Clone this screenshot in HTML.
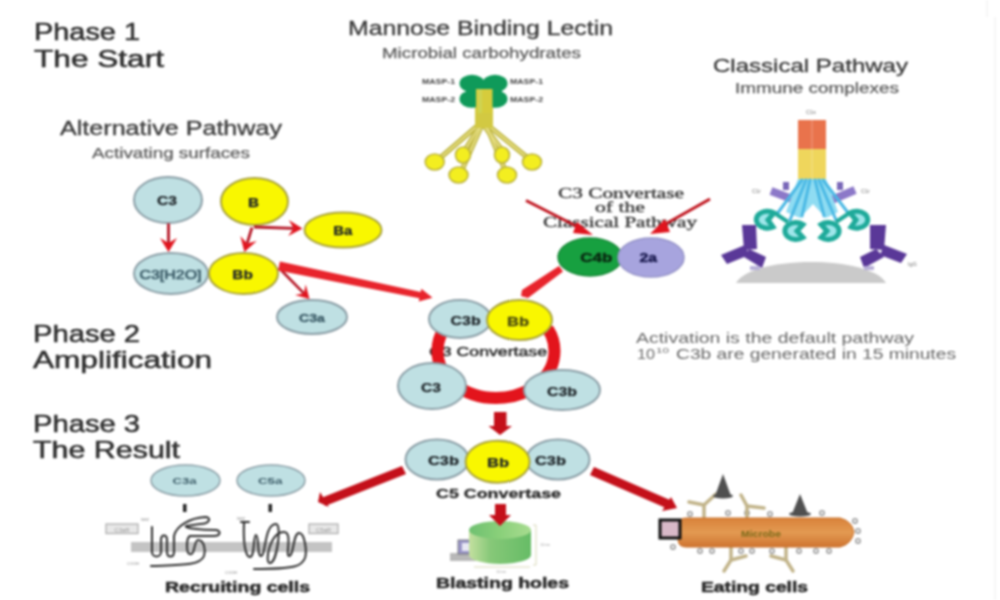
<!DOCTYPE html>
<html><head><meta charset="utf-8">
<style>
html,body{margin:0;padding:0;background:#fff;width:1000px;height:600px;overflow:hidden}
svg{display:block;filter:blur(1px)}
text{font-family:"Liberation Sans",sans-serif}
.sf{font-family:"Liberation Serif",serif}
</style></head><body>
<svg width="1000" height="600" viewBox="0 0 1000 600">
<defs>
<linearGradient id="mic" x1="0" y1="0" x2="0" y2="1">
<stop offset="0" stop-color="#d9823a"/><stop offset="0.5" stop-color="#e39a52"/><stop offset="1" stop-color="#cf7430"/>
</linearGradient>
<linearGradient id="cyl" x1="0" y1="0" x2="1" y2="0"><stop offset="0" stop-color="#c4e0a0"/><stop offset="0.35" stop-color="#86c878"/><stop offset="1" stop-color="#66bc66"/></linearGradient>
<linearGradient id="cyltop" x1="0" y1="0" x2="1" y2="0"><stop offset="0" stop-color="#6ec070"/><stop offset="0.5" stop-color="#8ad07a"/><stop offset="1" stop-color="#a8dc90"/></linearGradient>
<clipPath id="ringclip"><rect x="400" y="326" width="200" height="100"/></clipPath>
</defs>
<rect width="1000" height="600" fill="#fff"/>
<rect x="994.5" y="17" width="1.2" height="583" fill="#f0f0f0"/><rect x="986.5" y="0" width="1.2" height="17" fill="#f0f0f0"/>

<!-- ===== Titles ===== -->
<g fill="#2e2e2e" stroke="#2e2e2e" stroke-width="0.55">
<text x="34" y="40.4" font-size="24.5" textLength="106" lengthAdjust="spacingAndGlyphs">Phase 1</text>
<text x="34" y="66.8" font-size="24.5" textLength="130" lengthAdjust="spacingAndGlyphs">The Start</text>
<text x="33" y="342" font-size="24.5" textLength="107" lengthAdjust="spacingAndGlyphs">Phase 2</text>
<text x="33" y="368" font-size="24.5" textLength="179" lengthAdjust="spacingAndGlyphs">Amplification</text>
<text x="33" y="432" font-size="24.5" textLength="107" lengthAdjust="spacingAndGlyphs">Phase 3</text>
<text x="33" y="458" font-size="24.5" textLength="147" lengthAdjust="spacingAndGlyphs">The Result</text>
</g>
<g fill="#3a3a3a" stroke="#3a3a3a" stroke-width="0.3">
<text x="348" y="34.6" font-size="19.6" textLength="265" lengthAdjust="spacingAndGlyphs">Mannose Binding Lectin</text>
<text x="713" y="72" font-size="19" textLength="195" lengthAdjust="spacingAndGlyphs">Classical Pathway</text>
<text x="60" y="135" font-size="19.6" textLength="222" lengthAdjust="spacingAndGlyphs">Alternative Pathway</text>
</g>
<g fill="#5c5c5c" stroke="#5c5c5c" stroke-width="0.25">
<text x="382" y="58" font-size="15.5" textLength="199" lengthAdjust="spacingAndGlyphs">Microbial carbohydrates</text>
<text x="735" y="93" font-size="14" textLength="164" lengthAdjust="spacingAndGlyphs">Immune complexes</text>
<text x="92" y="158" font-size="14.5" textLength="158" lengthAdjust="spacingAndGlyphs">Activating surfaces</text>
</g>
<g fill="#686868">
<text x="636" y="343" font-size="15" textLength="278" lengthAdjust="spacingAndGlyphs">Activation is the default pathway</text>
<text x="637" y="358.5" font-size="15" textLength="18" lengthAdjust="spacingAndGlyphs">10</text>
<text x="656" y="353" font-size="8" textLength="13" lengthAdjust="spacingAndGlyphs">10</text>
<text x="676" y="358.5" font-size="15" textLength="280" lengthAdjust="spacingAndGlyphs">C3b are generated in 15 minutes</text>
</g>

<!-- ===== Alternative pathway ===== -->
<g stroke-width="2">
<ellipse cx="168" cy="200" rx="34" ry="23" fill="#bfe0e3" stroke="#8b9ea6"/>
<ellipse cx="254.5" cy="201.5" rx="33.5" ry="23.5" fill="#f9f700" stroke="#aaa43c"/>
<ellipse cx="343" cy="230" rx="38.5" ry="17.5" fill="#f9f700" stroke="#aaa43c"/>
<ellipse cx="171" cy="273.5" rx="37" ry="20.5" fill="#bfe0e3" stroke="#8b9ea6"/>
<ellipse cx="243.5" cy="273.5" rx="34.5" ry="20.5" fill="#f9f700" stroke="#aaa43c"/>
<ellipse cx="312" cy="317" rx="35" ry="17" fill="#bfe0e3" stroke="#8b9ea6"/>
</g>
<g font-weight="bold" fill="#1c2226" stroke="#1c2226" stroke-width="0.25" text-anchor="middle">
<text x="167" y="204.5" font-size="13" textLength="20" lengthAdjust="spacingAndGlyphs">C3</text>
<text x="253.5" y="206.5" font-size="13" textLength="11" lengthAdjust="spacingAndGlyphs">B</text>
<text x="342.7" y="234.5" font-size="12" textLength="19" lengthAdjust="spacingAndGlyphs">Ba</text>
<text x="170.5" y="278.5" font-size="13" font-weight="normal" stroke-width="0.6" fill="#3a5a66" stroke="#3a5a66" textLength="62" lengthAdjust="spacingAndGlyphs">C3[H2O]</text>
<text x="242.6" y="278.5" font-size="13" textLength="20.5" lengthAdjust="spacingAndGlyphs">Bb</text>
<text x="312" y="321.5" font-size="10.5" fill="#3a5a66" stroke="#3a5a66" stroke-width="0.3" textLength="26" lengthAdjust="spacingAndGlyphs">C3a</text>
</g>
<g>
<line x1="168.5" y1="223.5" x2="168.5" y2="243.0" stroke="#b41424" stroke-width="2.8"/>
<path d="M168.5,252.0 L160.0,238.0 L168.5,243.0 L177.0,238.0 z" fill="#e0141e"/>
<line x1="252.0" y1="227.5" x2="247.1" y2="243.4" stroke="#b41424" stroke-width="2.8"/>
<path d="M244.4,252.0 L240.4,236.1 L247.1,243.4 L256.7,241.1 z" fill="#e0141e"/>
<line x1="254.0" y1="227.0" x2="293.5" y2="228.3" stroke="#b41424" stroke-width="2.8"/>
<path d="M302.5,228.6 L288.2,236.1 L293.5,228.3 L288.8,220.1 z" fill="#e0141e"/>
<line x1="279.0" y1="268.0" x2="303.9" y2="293.3" stroke="#b41424" stroke-width="2.5"/>
<path d="M309.5,299.0 L295.0,295.0 L303.9,293.3 L305.7,284.5 z" fill="#e0141e"/>
</g>
<g fill="#e8242c">
<path d="M279.9,261.6 L420.65,292.1 L421.3,288.8 L432.5,297.8 L418.7,301.6 L419.35,298.3 L278.1,270.4 z"/>
</g>

<!-- ===== MBL figure ===== -->
<g>
<g stroke="#bdb43c" stroke-width="5" fill="none" stroke-linecap="round">
<line x1="476" y1="127" x2="440" y2="158"/>
<line x1="479" y1="127" x2="465" y2="150"/>
<line x1="481" y1="127" x2="462" y2="170"/>
<line x1="485" y1="127" x2="502" y2="150"/>
<line x1="487" y1="127" x2="505" y2="170"/>
<line x1="490" y1="127" x2="528" y2="158"/>
</g>
<g stroke="#e4dc80" stroke-width="2.2" fill="none" stroke-linecap="round">
<line x1="476" y1="127" x2="440" y2="158"/>
<line x1="479" y1="127" x2="465" y2="150"/>
<line x1="481" y1="127" x2="462" y2="170"/>
<line x1="485" y1="127" x2="502" y2="150"/>
<line x1="487" y1="127" x2="505" y2="170"/>
<line x1="490" y1="127" x2="528" y2="158"/>
</g>
<g stroke="#bdb43c" stroke-width="1.6" fill="#f3ee20">
<ellipse cx="434.7" cy="162" rx="9.5" ry="8"/>
<ellipse cx="463" cy="155" rx="7.5" ry="8"/>
<ellipse cx="458.5" cy="175" rx="9.5" ry="8"/>
<ellipse cx="502" cy="155" rx="7.5" ry="8"/>
<ellipse cx="507" cy="175" rx="9.5" ry="8"/>
<ellipse cx="532" cy="162" rx="9.5" ry="8"/>
</g>
<rect x="475" y="100" width="18" height="28" fill="#d2c942"/>
<g fill="#0f9a5a">
<rect x="466" y="80" width="36" height="22"/>
<ellipse cx="472" cy="83.5" rx="12.5" ry="8.8"/>
<ellipse cx="495" cy="83.5" rx="12.5" ry="8.8"/>
<ellipse cx="472" cy="99" rx="12.5" ry="8.8"/>
<ellipse cx="495" cy="99" rx="12.5" ry="8.8"/>
</g>
<rect x="476" y="89" width="16.5" height="24" fill="#d6cc3c"/>
<rect x="478" y="89" width="4" height="24" fill="#c8d860" opacity="0.6"/>
<g font-size="6.5" fill="#444" font-weight="bold">
<text x="422" y="84" textLength="33" lengthAdjust="spacingAndGlyphs">MASP-1</text>
<text x="422" y="102" textLength="33" lengthAdjust="spacingAndGlyphs">MASP-2</text>
<text x="510" y="84" textLength="33" lengthAdjust="spacingAndGlyphs">MASP-1</text>
<text x="510" y="102" textLength="33" lengthAdjust="spacingAndGlyphs">MASP-2</text>
</g>
</g>

<!-- ===== Classical pathway C1 complex ===== -->
<g>
<path d="M736,283 C752,255 870,255 886,283 z" fill="#cacaca"/>
<rect x="798" y="120" width="28" height="30" fill="#e9734c"/>
<rect x="798" y="149" width="28" height="30" fill="#efd65c"/>
<line x1="812" y1="120" x2="812" y2="179" stroke="#fff" stroke-width="1" opacity="0.3"/>
<g stroke="#8c78c8" stroke-width="8" fill="none">
<path d="M771,191 L800,202"/><path d="M855,190 L827,202"/>
</g>
<g fill="#7a68b8"><rect x="783" y="182" width="6" height="8"/><rect x="837" y="182" width="6" height="8"/></g>
<path d="M798,179 L826,179 L838,212 L826,218 L813,204 L800,218 L786,212 z" fill="#8fdcf2"/>
<g stroke="#4ab8e4" stroke-width="3" fill="none" stroke-linecap="round">
<path d="M802,180 L777,214"/>
<path d="M806,180 L790,220"/>
<path d="M810,180 L802,216"/>
<path d="M815,180 L824,216"/>
<path d="M819,180 L836,220"/>
<path d="M823,180 L849,214"/>
</g>
<g stroke="#1faa9a" stroke-width="5" fill="#9fe6ea">
<path d="M774,213 A11,8.5 0 1 0 773,227 L768,220 z"/>
<path d="M803,224.5 A11,8.5 0 1 0 803,237.5 L797,231 z"/>
<path d="M821,224.5 A11,8.5 0 1 1 821,237.5 L827,231 z"/>
<path d="M850,213 A11,8.5 0 1 1 851,227 L856,220 z"/>
</g>
<g stroke="#1faa9a" stroke-width="4" fill="none">
<path d="M776,214 L788,222"/><path d="M848,214 L836,222"/>
</g>
<g fill="#5a3898">
<path d="M742,225 L756,225 L757,249 L744,250 z"/>
<path d="M745,245 L721,255 L727,264 L749,255 z"/>
<path d="M749,249 L766,257 L762,268 L744,257 z"/>
<path d="M870,225 L886,225 L884,250 L870,249 z"/>
<path d="M884,245 L907,254 L901,263 L880,255 z"/>
<path d="M876,249 L860,257 L864,268 L884,257 z"/>
</g>
<g fill="#b8b0d8"><rect x="750" y="266" width="10" height="4"/><rect x="864" y="266" width="10" height="4"/></g>
<g font-size="5.5" fill="#777">
<text x="806" y="114">C1s</text>
<text x="752" y="193">C1r</text>
<text x="861" y="193">C1r</text>
<text x="908" y="266">IgG</text>
</g>
</g>

<!-- ===== C4b 2a ===== -->

<ellipse cx="590" cy="257" rx="32" ry="19" fill="#17a040" stroke="#1b8a3a" stroke-width="1.5"/>
<ellipse cx="651" cy="257.5" rx="33" ry="19.5" fill="#a7a4de" stroke="#9694c8" stroke-width="1.5"/>
<g font-weight="bold" text-anchor="middle">
<text x="596.3" y="262" font-size="13" fill="#0a2a12" stroke="#0a2a12" stroke-width="0.5" textLength="32" lengthAdjust="spacingAndGlyphs">C4b</text>
<text x="648.3" y="262" font-size="13" fill="#1b1b50" stroke="#1b1b50" stroke-width="0.5" textLength="17.5" lengthAdjust="spacingAndGlyphs">2a</text>
</g>
<g fill="#383838" stroke="#383838" stroke-width="0.35" class="sf">
<text class="sf" x="558" y="198" font-size="14.5" textLength="126" lengthAdjust="spacingAndGlyphs">C3 Convertase</text>
<text class="sf" x="595" y="212" font-size="14.5" textLength="50" lengthAdjust="spacingAndGlyphs">of the</text>
<text class="sf" x="543" y="227" font-size="14.5" textLength="154" lengthAdjust="spacingAndGlyphs">Classical Pathway</text>
</g>
<g>
<line x1="526" y1="200.5" x2="582" y2="229" stroke="#c0141e" stroke-width="3"/>
<path d="M577,222 L593,235 L573,233 z" fill="#e0141e"/>
<line x1="710" y1="199" x2="662" y2="226" stroke="#c0141e" stroke-width="3"/>
<path d="M665,219 L650,234 L670,232 z" fill="#e0141e"/>
</g>
<g fill="#e8242c">
<path d="M559,266 L563,271.5 L528,298 L521,296 L522,290 z"/>
</g>

<!-- ===== C3 convertase ring ===== -->
<text x="429" y="356" font-size="13" fill="#2a2a2a" stroke="#2a2a2a" stroke-width="0.45" textLength="118" lengthAdjust="spacingAndGlyphs">C3 Convertase</text>
<ellipse cx="496" cy="351" rx="58.5" ry="47" fill="none" stroke="#e3141c" stroke-width="12" clip-path="url(#ringclip)"/>
<g stroke-width="2">
<ellipse cx="460" cy="319" rx="31" ry="19" fill="#bfe0e3" stroke="#8b9ea6"/>
<ellipse cx="519.5" cy="320" rx="32.5" ry="20" fill="#f9f700" stroke="#aaa43c"/>
<ellipse cx="432" cy="386" rx="34" ry="23" fill="#bfe0e3" stroke="#8b9ea6"/>
<ellipse cx="562" cy="390" rx="38" ry="20" fill="#bfe0e3" stroke="#8b9ea6"/>
</g>
<g font-weight="bold" fill="#1c2226" stroke="#1c2226" stroke-width="0.25" text-anchor="middle">
<text x="465.6" y="325" font-size="13" textLength="30" lengthAdjust="spacingAndGlyphs">C3b</text>
<text x="518" y="326" font-size="13" fill="#4a4a10" stroke="#4a4a10" stroke-width="0.3" textLength="22" lengthAdjust="spacingAndGlyphs">Bb</text>
<text x="431" y="392" font-size="13" textLength="20" lengthAdjust="spacingAndGlyphs">C3</text>
<text x="562" y="395.5" font-size="13" textLength="30" lengthAdjust="spacingAndGlyphs">C3b</text>
</g>
<g fill="#c4101a">
<rect x="494" y="412" width="12.5" height="15"/>
<path d="M488.5,426 L512,426 L500,435 z"/>
</g>

<!-- ===== C5 convertase ===== -->
<g stroke-width="2">
<ellipse cx="437" cy="459.5" rx="31.5" ry="20" fill="#bfe0e3" stroke="#8b9ea6"/>
<ellipse cx="558" cy="459.5" rx="31.5" ry="20" fill="#bfe0e3" stroke="#8b9ea6"/>
<ellipse cx="497.6" cy="461.7" rx="32" ry="21" fill="#f9f700" stroke="#aaa43c"/>
</g>
<g font-weight="bold" fill="#1c2226" stroke="#1c2226" stroke-width="0.25" text-anchor="middle">
<text x="443.5" y="465" font-size="13" textLength="31" lengthAdjust="spacingAndGlyphs">C3b</text>
<text x="498" y="467" font-size="13" textLength="22" lengthAdjust="spacingAndGlyphs">Bb</text>
<text x="550.5" y="465" font-size="13" textLength="31" lengthAdjust="spacingAndGlyphs">C3b</text>
</g>
<text x="436" y="497.5" font-size="13" font-weight="bold" fill="#2a2a2a" stroke="#2a2a2a" stroke-width="0.3" textLength="125" lengthAdjust="spacingAndGlyphs">C5 Convertase</text>
<g fill="#c4101a">
<path d="M402,466 L406,474 L325,506 L321,498 z"/>
<path d="M318,502 L320,492 L329,507 z"/>
<path d="M590,475 L594,467 L670,500 L666,508 z"/>
<path d="M677,508 L671,497 L662,511 z"/>
</g>

<!-- ===== Recruiting cells ===== -->
<g>
<ellipse cx="185.5" cy="480.5" rx="34.5" ry="15.5" fill="#bfe0e3" stroke="#8b9ea6" stroke-width="1.5"/>
<ellipse cx="271" cy="480.5" rx="34" ry="15.5" fill="#bfe0e3" stroke="#8b9ea6" stroke-width="1.5"/>
<text x="184.6" y="484" font-size="9.5" font-weight="bold" fill="#3a5a66" text-anchor="middle" textLength="24" lengthAdjust="spacingAndGlyphs">C3a</text>
<text x="270.2" y="484" font-size="9.5" font-weight="bold" fill="#3a5a66" text-anchor="middle" textLength="24.5" lengthAdjust="spacingAndGlyphs">C5a</text>
<rect x="183" y="504" width="3.5" height="8" fill="#222"/>
<rect x="268.5" y="504" width="3.5" height="8" fill="#222"/>
<rect x="131" y="542" width="201" height="10" fill="#c4c4c4"/>
<rect x="106" y="524" width="32" height="9.5" fill="#e8e8e8" stroke="#aaa" stroke-width="1.2"/>
<rect x="309" y="524" width="29" height="9.5" fill="#e8e8e8" stroke="#aaa" stroke-width="1.2"/>
<text x="122" y="531.5" font-size="6" fill="#999" text-anchor="middle">C3aR</text>
<text x="323.5" y="531.5" font-size="6" fill="#999" text-anchor="middle">C5aR</text>
<g stroke="#2e2e2e" stroke-width="2" fill="none" stroke-linejoin="round" stroke-linecap="round">
<path d="M152,527 L152,552 C152,558 161,558 161,552 L161,540 C161,534 167,534 167,540 L167,552 C167,558 174,558 174,552 L174,536 C176,526 190,518 205,517 C212,517 210,524 200,524 L186,526 C184,528 200,530 216,530 C222,531 220,536 214,536 L190,536 C186,538 186,554 190,554 C195,556 194,540 198,540 C204,540 206,550 204,556 C200,566 180,565 151,566"/>
<path d="M241,522 L249,522 M244,523 C243,545 246,557 250,557 C255,557 253,535 256,535 C259,535 257,556 261,556 C266,556 264,524 276,524 C282,524 277,563 270,563 C264,563 270,532 284,532 C293,532 285,556 289,556 C294,556 293,533 299,533 C305,533 307,552 305,558 C302,566 296,569 254,569"/>
</g>
<g font-size="4" fill="#888"><text x="141" y="521">NH2</text><text x="237" y="520">NH2</text><text x="127" y="565">COOH</text><text x="225" y="574">COOH</text></g>
</g>

<!-- ===== Blasting holes ===== -->
<g>
<rect x="450" y="553" width="26" height="8" fill="#b8b8b8"/>
<rect x="458" y="540" width="16" height="14" fill="#9a96c8" stroke="#666" stroke-width="0.8"/>
<rect x="462" y="543" width="8" height="8" fill="#e8e8f4"/>
<path d="M469,530 L469,555 A31,9 0 0 0 531,555 L531,530 z" fill="url(#cyl)"/>
<ellipse cx="500" cy="530" rx="31" ry="9" fill="url(#cyltop)"/>
<g stroke="#d8d8b8" stroke-width="1" fill="none">
<path d="M533,525 L536,525 L536,565 L533,565"/>
<path d="M474,567 L530,567"/>
</g>
<text x="540" y="546" font-size="4" fill="#aaa">10nm</text>
<text x="496" y="573" font-size="4" fill="#aaa">10nm</text>
<g fill="#c4101a">
<rect x="495" y="504" width="11" height="13"/>
<path d="M489,515 L511,515 L500,526 z"/>
</g>
</g>

<!-- ===== Eating cells ===== -->
<g>
<g fill="none" stroke="#9a9a9a" stroke-width="1.5">
<circle cx="690" cy="514" r="2.2"/><circle cx="728" cy="513" r="2.2"/><circle cx="747" cy="513" r="2.2"/><circle cx="770" cy="514" r="2.2"/><circle cx="822" cy="513" r="2.2"/>
<circle cx="700" cy="551" r="2.2"/><circle cx="712" cy="551" r="2.2"/><circle cx="741" cy="551" r="2.2"/><circle cx="752" cy="551" r="2.2"/><circle cx="772" cy="551" r="2.2"/><circle cx="799" cy="551" r="2.2"/><circle cx="816" cy="551" r="2.2"/><circle cx="829" cy="551" r="2.2"/>
<circle cx="855" cy="521" r="2.2"/><circle cx="858" cy="531" r="2.2"/><circle cx="858" cy="541" r="2.2"/><circle cx="673" cy="547" r="2.2"/>
</g>
<g stroke="#c2b48a" stroke-width="3.5" fill="none" stroke-linecap="round">
<path d="M704,518 L704,505 L689,502"/><path d="M704,505 L716,494"/>
<path d="M747,518 L747,506 L741,495"/><path d="M747,506 L764,508"/>
<path d="M731,547 L731,560 L724,571"/><path d="M731,560 L746,556"/>
<path d="M786,547 L786,560 L793,571"/><path d="M786,560 L771,556"/>
</g>
<g fill="#4f4f4f">
<path d="M723,474 L715,496 L731,496 z"/><ellipse cx="723" cy="496" rx="10" ry="2.5"/>
<path d="M800,494 L792,514 L808,514 z"/><ellipse cx="800" cy="514" rx="11" ry="2.5"/>
</g>
<path d="M686,518 L840,518 Q852,521 854,532 Q852,544 840,547 L686,547 Q678,547 678,539 L678,526 Q678,518 686,518 z" fill="url(#mic)" stroke="#c8702a" stroke-width="1"/>
<text x="761" y="536.5" font-size="9" font-weight="bold" fill="#7a6a18" text-anchor="middle" textLength="40" lengthAdjust="spacingAndGlyphs">Microbe</text>
<rect x="660" y="520" width="20" height="18" fill="#d8b8c8" stroke="#111" stroke-width="3"/>
</g>

<!-- ===== bottom labels ===== -->
<g font-weight="bold" fill="#2a2a2a" stroke="#2a2a2a" stroke-width="0.5">
<text x="165" y="591.6" font-size="14" textLength="145" lengthAdjust="spacingAndGlyphs">Recruiting cells</text>
<text x="436" y="588" font-size="14" textLength="133" lengthAdjust="spacingAndGlyphs">Blasting holes</text>
<text x="701" y="592" font-size="14" textLength="107" lengthAdjust="spacingAndGlyphs">Eating cells</text>
</g>
</svg>
</body></html>
